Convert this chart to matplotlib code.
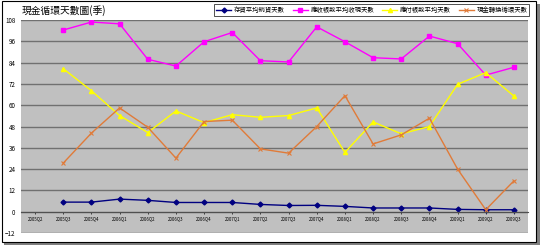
import numpy as np
import matplotlib.pyplot as plt
from matplotlib.patches import Rectangle

plt.rcParams['font.family'] = ['Noto Sans CJK TC', 'DejaVu Sans']

quarters = ['2005Q2', '2005Q3', '2005Q4', '2006Q1', '2006Q2', '2006Q3', '2006Q4',
            '2007Q1', '2007Q2', '2007Q3', '2007Q4', '2008Q1', '2008Q2', '2008Q3',
            '2008Q4', '2009Q1', '2009Q2', '2009Q3']

nan = np.nan
inventory_days = [nan, 5.4, 5.4, 7.1, 6.4, 5.2, 5.2, 5.2, 4.1, 3.5, 3.6, 3.0,
                  2.1, 2.1, 2.1, 1.3, 1.1, 1.1]
receivable_days = [nan, 102.4, 106.9, 105.9, 85.9, 82.1, 95.8, 101.0, 85.1, 84.4,
                   104.2, 95.8, 86.8, 86.1, 99.0, 94.7, 77.0, 81.4]
payable_days = [nan, 80.6, 68.2, 54.2, 44.6, 56.8, 50.2, 54.7, 53.2, 54.2,
                58.5, 33.4, 50.6, 43.9, 48.0, 71.8, 78.4, 65.2]
cash_cycle_days = [nan, 27.4, 44.3, 58.5, 47.6, 30.2, 50.8, 51.6, 35.4, 33.0,
                   48.0, 65.4, 38.2, 43.3, 52.7, 24.0, 1.1, 17.4]

labels = ['存貨平均銷貨天數', '應收帳款平均收現天數', '應付帳款平均天數', '現金轉換循環天數']

fig = plt.figure(figsize=(5.44, 2.45), dpi=100)
fig.patch.set_facecolor('white')

# outer frame with shadow
fig.patches.append(Rectangle((0.008, 0.0), 0.985, 0.985, transform=fig.transFigure,
                             facecolor='#808080', edgecolor='none', zorder=-2))
fig.patches.append(Rectangle((0.003, 0.012), 0.983, 0.982, transform=fig.transFigure,
                             facecolor='white', edgecolor='black', linewidth=0.8, zorder=-1))

ax = fig.add_axes([0.0386, 0.049, 0.932, 0.869])
ax.set_facecolor('#C0C0C0')

x = np.arange(len(quarters))
ax.plot(x, inventory_days, color='#000080', marker='D', markersize=2.5, linewidth=1, label=labels[0])
ax.plot(x, receivable_days, color='#FF00FF', marker='s', markersize=2.8, linewidth=1, label=labels[1])
ax.plot(x, payable_days, color='#FFFF00', marker='^', markersize=3, linewidth=1, label=labels[2])
ax.plot(x, cash_cycle_days, color='#E07B39', marker='x', markersize=3, linewidth=1,
        markeredgewidth=0.8, label=labels[3])

ax.set_xlim(-0.5, len(quarters) - 0.5)
ax.set_ylim(-12, 108)
ax.set_yticks(np.arange(-12, 109, 12))
ax.yaxis.grid(True, color='#707070', linewidth=1)
ax.set_axisbelow(True)
ax.tick_params(axis='y', labelsize=4.5, length=0, pad=4)

ax.set_xticks(x)
ax.set_xticklabels(quarters)
ax.tick_params(axis='x', labelsize=3.2, length=1.5, width=0.5, pad=2)
ax.spines['bottom'].set_position(('data', 0))
ax.spines['bottom'].set_color('#505050')
for s in ['top', 'right', 'left']:
    ax.spines[s].set_visible(False)

fig.text(0.04, 0.955, '現金循環天數圖(季)', fontsize=7, ha='left', va='center')

leg = fig.legend(loc='upper right', bbox_to_anchor=(0.979, 0.995), ncol=4, fontsize=4.6,
                 frameon=True, fancybox=False, edgecolor='black', handlelength=2.4,
                 columnspacing=1.2, handletextpad=0.4, borderpad=0.3)
leg.get_frame().set_linewidth(0.6)

fig.savefig('out.png', dpi=100)
